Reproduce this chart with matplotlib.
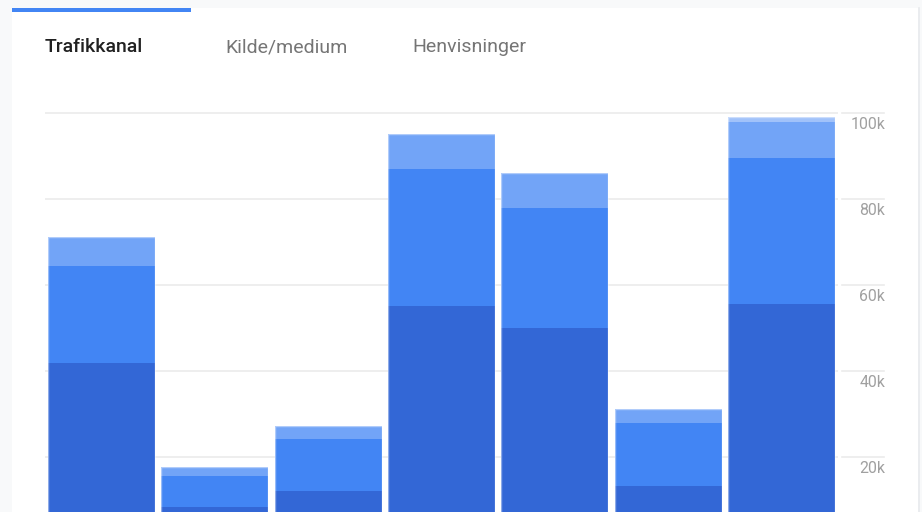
import numpy as np
import matplotlib.pyplot as plt

plt.rcParams['font.family'] = ['Roboto', 'DejaVu Sans']

# Data (visits, thousands), stacked bottom -> top
channels = ['1', '2', '3', '4', '5', '6', '7']
seg_dark = [41.9, 8.3, 12.2, 55.1, 50.0, 13.3, 55.5]
seg_mid = [22.6, 7.3, 12.1, 31.9, 28.0, 14.5, 34.1]
seg_light = [6.7, 2.1, 2.8, 8.1, 8.0, 3.4, 8.4]
seg_top = [0.0, 0.0, 0.0, 0.0, 0.0, 0.0, 1.0]
yticks = [20, 40, 60, 80, 100]
ytick_labels = ['20k', '40k', '60k', '80k', '100k']
tabs = ['Trafikkanal', 'Kilde/medium', 'Henvisninger']

colors = ['#3367d6', '#4285f4', '#72a4f7', '#a1c2fa']

W, H = 922, 512
fig = plt.figure(figsize=(W / 100, H / 100), dpi=100)
fig.patch.set_facecolor('#f8f9fa')

# white card behind the chart
card = plt.Rectangle((12 / W, 0), (918 - 12) / W, (H - 8) / H, transform=fig.transFigure,
                     facecolor='white', edgecolor='none', zorder=-10)
fig.add_artist(card)
# right border line of the card
fig.add_artist(plt.Line2D([918.5 / W, 918.5 / W], [0, (H - 8) / H], transform=fig.transFigure,
                          color='#e8eaed', lw=1.2, zorder=-5))
# active tab indicator
fig.add_artist(plt.Rectangle((12 / W, (H - 12) / H), (191 - 12) / W, 4 / H, transform=fig.transFigure,
                             facecolor='#4285f4', edgecolor='none', zorder=-5))

# tab labels
tab_x = [45, 225, 412]
for i, t in enumerate(tabs):
    fig.text(tab_x[i] / W, 1 - 47.5 / H, t, fontsize=14, va='center', ha='left',
             color='#212121' if i == 0 else '#757575',
             fontweight='medium' if i == 0 else 'normal')

# axes: left 45px, right 838px, top 100px, bottom 543px (below the figure edge)
ax_l, ax_r, ax_t, ax_b = 45, 838, 100, 543
ax = fig.add_axes([ax_l / W, 1 - ax_b / H, (ax_r - ax_l) / W, (ax_b - ax_t) / H])
ax.set_facecolor('none')
ax.set_xlim(-0.5, 6.5)
ax.set_ylim(0, (ax_b - ax_t) / 4.3)

x = np.arange(len(channels))
bottom = np.zeros(len(channels))
for seg, c in zip([seg_dark, seg_mid, seg_light, seg_top], colors):
    seg = np.array(seg)
    ax.bar(x, seg, bottom=bottom, width=0.944, color=c, linewidth=0, zorder=3)
    bottom += seg
# faint light outline around each whole bar
ax.bar(x, bottom, width=0.944, facecolor='none', edgecolor=(1, 1, 1, 0.45),
       linewidth=1.0, zorder=4)

gx0 = (842 - ax_l) / (ax_r - ax_l)
gx1 = (884 - ax_l) / (ax_r - ax_l)
lx = (885 - ax_l) / (ax_r - ax_l)
for v, lab in zip(yticks, ytick_labels):
    ax.axhline(v, color='#ebebeb', lw=1.2, zorder=1)
    ax.axhline(v, xmin=gx0, xmax=gx1, color='#ebebeb', lw=1.2, zorder=1, clip_on=False)
    ax.annotate(lab, xy=(lx, v), xycoords=('axes fraction', 'data'), xytext=(0, -3),
                textcoords='offset points', ha='right', va='top', fontsize=11.4,
                color='#a0a0a0', annotation_clip=False)

for s in ax.spines.values():
    s.set_visible(False)
ax.set_xticks([])
ax.set_yticks([])

fig.savefig('out.png', dpi=100, facecolor=fig.get_facecolor())
